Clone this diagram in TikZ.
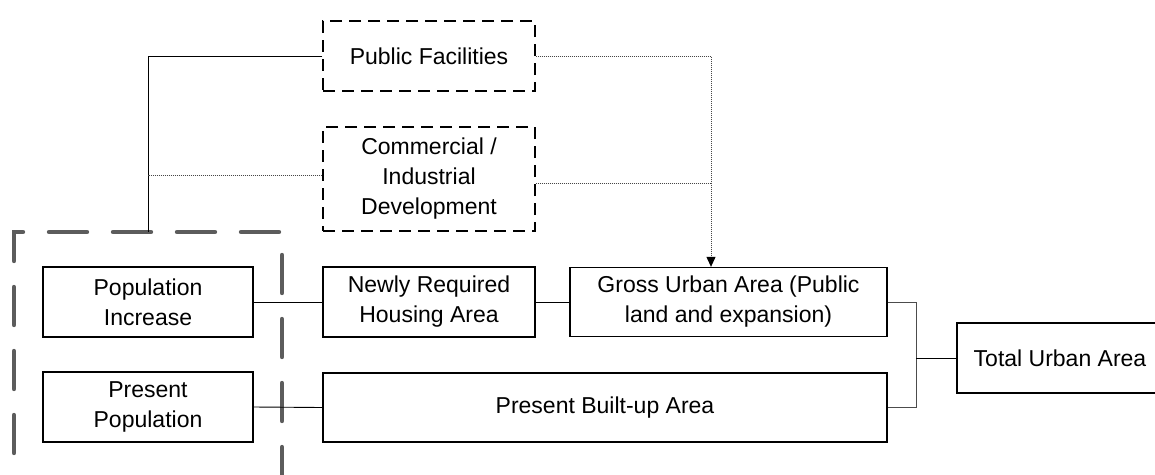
\documentclass[tikz,border=0pt]{standalone}
\usepackage{fontspec}
\setmainfont{Liberation Sans}
\usetikzlibrary{arrows.meta}
\begin{document}
\begin{tikzpicture}[x=1pt,y=-1pt,
  box/.style={draw, line width=1.3pt, align=center, inner sep=0pt,
              font=\fontsize{23}{30}\selectfont},
  dbox/.style={box, dash pattern=on 12pt off 7pt},
  link/.style={line width=0.9pt},
  dotline/.style={line width=1pt, black!72, dash pattern=on 1pt off 1pt},
  zone/.style={line width=4.4pt, black!64, line cap=round,
               dash pattern=on 38pt off 26pt, dash phase=61pt}]
\useasboundingbox (0,0) rectangle (1155,474);
\begin{scope}
\clip (0,0) rectangle (1155,474);

% grouping boundary around the population inputs
\draw[zone] (14,520) -- (14,232) -- (282,232) -- (282,520);
\coordinate (ztop) at (148,232);

% optional inputs
\node[dbox, minimum width=212pt, minimum height=70pt] (pub) at (429,56) {Public Facilities};
\node[dbox, minimum width=212pt, minimum height=104pt] (comm) at (429,179) {Commercial /\\Industrial\\Development};

% population side
\node[box, minimum width=210pt, minimum height=70pt] (popinc) at (148,302) {Population\\Increase};
\node[box, minimum width=210pt, minimum height=70pt] (prespop) at (148,407) {Present\\Population};

% areas
\node[box, minimum width=212pt, minimum height=70pt] (newly) at (429,302) {Newly Required\\Housing Area};
\node[box, minimum width=317pt, minimum height=69pt] (gross) at (728.5,302) {Gross Urban Area (Public\\land and expansion)};
\node[box, minimum width=564pt, minimum height=69pt] (builtup) at (605,407.5) {Present Built-up Area};
\node[box, minimum width=206pt, minimum height=70pt] (total) at (1060,358) {Total Urban Area};

% connectors
\coordinate (drop) at (711,0);
\coordinate (join) at (916,358);

\draw[link] (pub.west) -| (ztop);
\draw[dotline] ([yshift=4pt]comm.west) -- ([yshift=4pt]comm.west -| ztop);

\draw[dotline, -{Triangle[length=10pt, width=9pt, black]}] (pub.east) -| (drop |- gross.north);
\draw[dotline] ([yshift=-4pt]comm.east) -- ([yshift=-4pt]comm.east -| drop);

\draw[link] (popinc.east) -- (newly.west);
\draw[link] (prespop.east) -- (builtup.west);
\draw[link] (newly.east) -- (gross.west);

\draw[link, black!70] (gross.east) -| (join) |- (builtup.east);
\draw[link] (join) -- (total.west);
\end{scope}
\end{tikzpicture}
\end{document}
